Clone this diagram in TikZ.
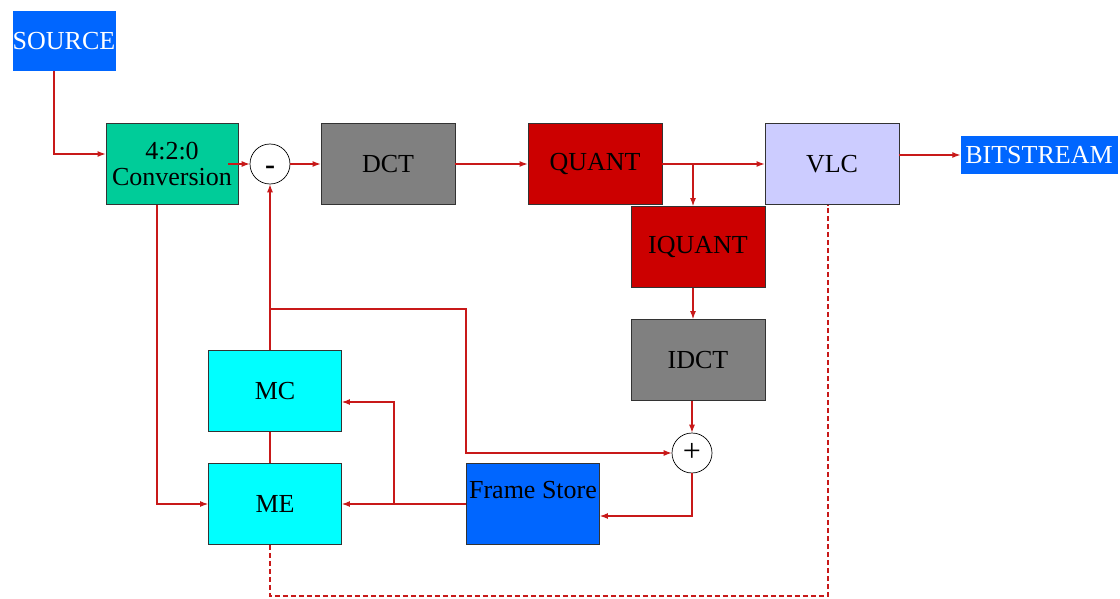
\documentclass[tikz,border=0pt]{standalone}
\usepackage{fontspec}
\setmainfont{Liberation Serif}
\usetikzlibrary{arrows.meta}
\definecolor{lnred}{RGB}{200,25,25}
\definecolor{srcblue}{RGB}{0,102,255}
\definecolor{convgreen}{RGB}{0,204,153}
\definecolor{dctgray}{RGB}{128,128,128}
\definecolor{qred}{RGB}{204,0,0}
\definecolor{vlcblue}{RGB}{204,204,255}
\definecolor{mecyan}{RGB}{0,255,255}
\tikzset{
  blk/.style={draw=black!80, line width=0.9pt, minimum width=134pt, minimum height=81pt, inner sep=0pt, font=\fontsize{26}{29}\selectfont, text=black},
  tag/.style={fill=srcblue, inner sep=0pt, font=\fontsize{26}{29}\selectfont, text=white},
  sumc/.style={circle, draw=black, line width=0.7pt, minimum size=40pt, inner sep=0pt},
  arr/.style={draw=lnred, line width=1.1pt, -{Latex[length=8pt,width=6pt]}},
  ln/.style={draw=lnred, line width=1.1pt},
  dln/.style={draw=lnred, line width=1.1pt, dash pattern=on 5pt off 3pt},
}
\begin{document}
\begin{tikzpicture}[x=1pt,y=-1pt]
\useasboundingbox (0,0) rectangle (1120,599);
\fill[white] (0,0) rectangle (1120,599);
% nodes
\node[tag, minimum width=103pt, minimum height=60pt] (source) at (64,41) {SOURCE};
\node[blk, fill=convgreen, minimum width=132pt, align=center] (conv) at (172,164) {4:2:0\\[-3pt]Conversion};
\node[sumc] (minus) at (270,164) {};
\node[font=\fontsize{30}{30}\selectfont\bfseries] (minustxt) at (270,170) {-};
\node[blk, fill=dctgray] (dct) at (388,164) {DCT};
\node[blk, fill=qred] (quant) at (595,164) {QUANT};
\node[blk, fill=vlcblue] (vlc) at (832,164) {VLC};
\node[tag, minimum width=157pt, minimum height=38pt] (bits) at (1039,155) {BITSTREAM};
\node[blk, fill=qred] (iquant) at (698,247) {IQUANT};
\node[blk, fill=dctgray] (idct) at (698,360) {IDCT};
\node[sumc] (plus) at (692,453) {};
\node[font=\fontsize{32}{32}\selectfont] (plustxt) at (692,452) {+};
\node[blk, fill=srcblue, minimum width=133pt] (fs) at (533,504) {};
\node[font=\fontsize{26}{29}\selectfont] (fstxt) at (533,490) {Frame Store};
\node[blk, fill=mecyan, minimum width=133pt] (mc) at (275,391) {MC};
\node[blk, fill=mecyan, minimum width=133pt] (me) at (275,504) {ME};
% coordinates
\coordinate (qb) at (693,164);
\coordinate (fb) at (394,504);
\coordinate (mb) at (270,309);
\coordinate (fbk) at (466,309);
\coordinate (dc) at (828,596);
% connectors
\draw[arr] ([xshift=-10pt]source.south) |- ([yshift=10pt]conv.west);
\draw[arr] ([xshift=-10pt]conv.east) -- (minus.west);
\draw[arr] (minus.east) -- (dct.west);
\draw[arr] (dct.east) -- (quant.west);
\draw[arr] (quant.east) -- (vlc.west);
\draw[arr] (qb) -- (qb |- iquant.north);
\draw[arr] (vlc.east |- bits.west) -- (bits.west);
\draw[arr] (qb |- iquant.south) -- (qb |- idct.north);
\draw[arr] (plus |- idct.south) -- (plus.north);
\draw[arr] (plus.south) |- ([yshift=-12pt]fs.east);
\draw[arr] (fs.west) -- (me.east);
\draw[arr] (fb) |- ([yshift=-11pt]mc.east);
\draw[arr] ([xshift=-15pt]conv.south) |- (me.west);
\draw[ln] (minus |- mc.south) -- (minus |- me.north);
\draw[arr] (minus |- mc.north) -- (minus.south);
\draw[arr] (mb) -- (fbk) |- (plus.west);
\draw[dln] (minus |- me.south) |- (dc) -- (dc |- vlc.south);
\end{tikzpicture}
\end{document}
